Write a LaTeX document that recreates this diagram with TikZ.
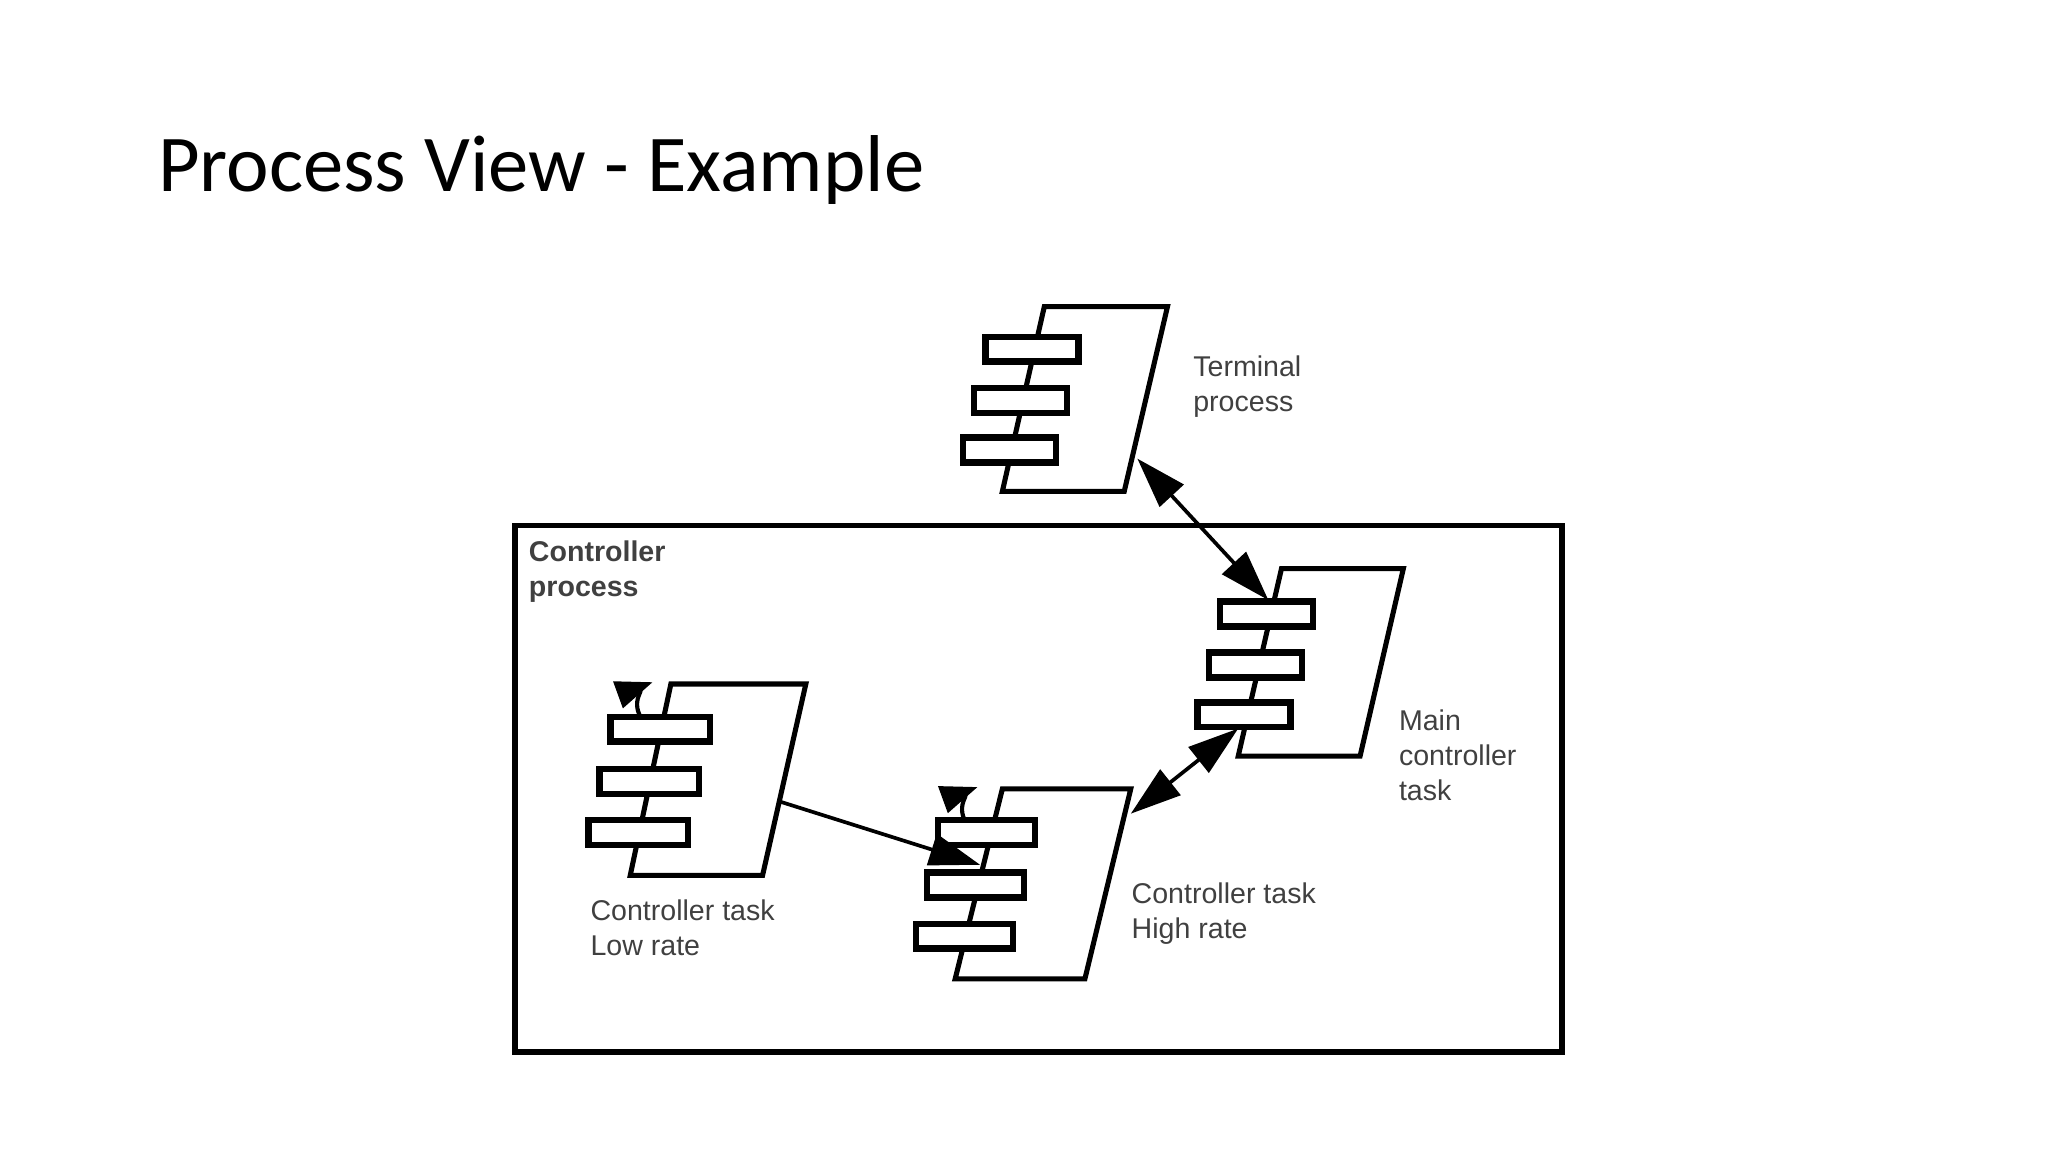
\documentclass[tikz,border=0pt]{standalone}
\usepackage{fontspec}
\setmainfont{Liberation Sans}
\newfontfamily\titlefont{Carlito}
\usetikzlibrary{arrows.meta}
\newcommand\mycomp[9]{% tlx,trx,topy,blx,brx,boty, bar1 x, bar dx, bar ys (3 values as y1/y2/y3)
  \draw[comp] (#1,#3) -- (#2,#3) -- (#5,#6) -- (#4,#6) -- cycle;
  \foreach \yy [count=\i] in {#9} {
    \pgfmathsetmacro\xx{#7-(\i-1)*8.5}
    \draw[bar] (\xx,\yy) rectangle ++(#8,19);
  }
}
\begin{document}
\begin{tikzpicture}[x=0.01cm,y=-0.01cm,
  comp/.style={line width=1.1pt,fill=white},
  bar/.style={line width=1.4pt,fill=white},
  lbl/.style={font=\fontsize{6.2}{7.6}\selectfont,text=black!75,align=left,anchor=north west,inner sep=0},
  arr/.style={line width=0.8pt,{Triangle[width=7pt,length=11pt]}-{Triangle[width=7pt,length=11pt]}}]
\useasboundingbox (0,0) rectangle (1563,879);
\node[font=\titlefont\fontsize{17.5}{20}\selectfont,anchor=west,inner sep=0] (title) at (120,130) {Process View - Example};
\draw[line width=1.2pt] (393,401) rectangle (1192,803);
\node[lbl,font=\bfseries\fontsize{6.2}{7.6}\selectfont] (cp) at (403,412) {Controller\\process};
% terminal
\mycomp{797}{891}{234}{765}{858}{375}{752}{71}{257,296,334}
\node[lbl] (tp) at (910,271) {Terminal\\process};
% main
\mycomp{978}{1071}{434}{945}{1038}{577}{931}{71}{459,498,536}
\node[lbl] (mc) at (1067,541) {Main\\controller\\task};
% low
\draw[line width=0.9pt,-{Triangle[width=6pt,length=8pt]}] (518,526) arc[start angle=-40,end angle=250,radius=18];
\mycomp{512}{615}{522}{481}{582}{668}{466}{76}{547,587,626}
\node[lbl] (lr) at (450,686) {Controller task\\Low rate};
% high
\draw[line width=0.9pt,-{Triangle[width=6pt,length=8pt]}] (766,606) arc[start angle=-40,end angle=250,radius=18];
\mycomp{765}{863}{602}{729}{828}{747}{716}{74}{626,666,705}
\node[lbl] (hr) at (863,673) {Controller task\\High rate};
\coordinate (t1) at (868,350); \coordinate (m1) at (968,458);
\coordinate (m2) at (945,556); \coordinate (h1) at (863,621);
\coordinate (l1) at (596,612); \coordinate (h2) at (748,660);
\draw[arr] (t1) -- (m1);
\draw[arr] (m2) -- (h1);
\draw[line width=0.8pt,-{Triangle[width=7pt,length=11pt]}] (l1) -- (h2);
\end{tikzpicture}
\end{document}
